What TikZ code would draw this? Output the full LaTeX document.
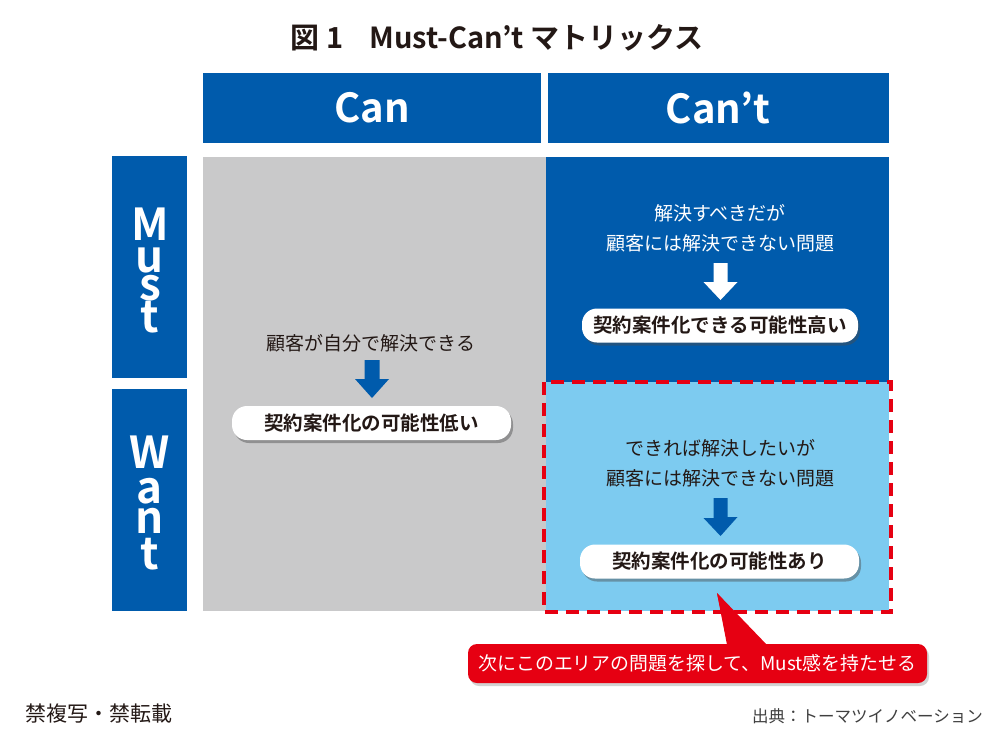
\documentclass[tikz,border=0pt]{standalone}
\usepackage{fontspec}
\setmainfont{Noto Sans CJK JP}[BoldFont={Noto Sans CJK JP Bold}]
\usetikzlibrary{shadows,calc}
\definecolor{dblue}{HTML}{005BAC}
\definecolor{lblue}{HTML}{7DCBF0}
\definecolor{lgrey}{HTML}{C9C9CA}
\definecolor{cred}{HTML}{E60012}
\definecolor{txt}{HTML}{231815}
\newcommand\myfixskip{\lineskiplimit=-100pt\relax}
\begin{document}
\begin{tikzpicture}[x=1pt,y=-1pt,
  rowletters/.style={text=white,align=center,anchor=north,inner sep=0pt},
  body/.style={font=\fontsize{19}{19}\selectfont,inner sep=0pt},
  pill/.style={fill=white,rounded corners=15pt,minimum height=34pt,inner sep=0pt,text=txt,
    font=\fontsize{19.5}{19.5}\selectfont\bfseries,
    drop shadow={shadow xshift=2pt,shadow yshift=-3pt,opacity=0.45,fill=black!70}},
]
\useasboundingbox (0,0) rectangle (1000,750);
\fill[white] (0,0) rectangle (1000,750);

% title
\node[font=\fontsize{29}{29}\selectfont\bfseries,text=txt] (title) at (497,38) {図 1\hspace{0.9em}Must-Can’t マトリックス};

% headers
\fill[dblue] (203,73) rectangle (541,143);
\node[text=white,font=\fontsize{40}{40}\selectfont\bfseries] (can) at (372,108) {Can};
\fill[dblue] (548,73) rectangle (889,143);
\node[text=white,font=\fontsize{40}{40}\selectfont\bfseries] (cant) at (718,108) {Can’t};

% row labels
\fill[dblue] (112,156) rectangle (187,378);
\fill[dblue] (112,389) rectangle (187,611);
\node[rowletters,font=\fontsize{44}{28}\selectfont\bfseries\myfixskip] (must) at (150,208) {M\\[4pt]u\\s\\[4pt]t};
\node[rowletters,font=\fontsize{44}{30}\selectfont\bfseries\myfixskip] (want) at (150,436) {W\\[5pt]a\\n\\[6pt]t};

% cells
\fill[lgrey] (203,157) rectangle (546,611);
\fill[dblue] (546,157) rectangle (889,382);
\fill[lblue] (546,382) rectangle (889,611);
\draw[cred,line width=4pt,dash pattern=on 13pt off 8pt] (544,382) rectangle (891,612);

% Can cell
\node[body,text=txt] (c1) at (371,343) {顧客が自分で解決できる};
\fill[dblue] (364.5,360) -- ++(15,0) -- ++(0,19) -- ++(9.5,0) -- (372,398) -- ++(-17,-19) -- ++(9.5,0) -- cycle;
\node[pill,minimum width=279pt] (p1) at (371.5,423) {契約案件化の可能性低い};

% Must / Can't
\node[body,text=white,align=center] (c2) at (720,228) {解決すべきだが\\[11pt]顧客には解決できない問題};
\fill[white] (713.5,263) -- ++(14,0) -- ++(0,19) -- ++(10,0) -- (720.5,300) -- ++(-17,-18) -- ++(10,0) -- cycle;
\node[pill,minimum width=276pt] (p2) at (720,325.5) {契約案件化できる可能性高い};

% Want / Can't
\node[body,text=txt,align=center] (c3) at (720,463) {できれば解決したいが\\[11pt]顧客には解決できない問題};
\fill[dblue] (713.5,498) -- ++(14,0) -- ++(0,19) -- ++(10,0) -- (720.5,536) -- ++(-17,-18) -- ++(10,0) -- cycle;
\node[pill,minimum width=279pt] (p3) at (719.5,561.5) {契約案件化の可能性あり};

% callout
\coordinate (tip) at (717,593);
\fill[cred,drop shadow={shadow xshift=2pt,shadow yshift=-3pt,opacity=0.35}] (tip) -- (768,650) -- (728,650) -- cycle;
\node[fill=cred,rounded corners=9pt,minimum width=459pt,minimum height=39pt,inner sep=0pt,
  text=white,font=\fontsize{18.9}{18.9}\selectfont,
  drop shadow={shadow xshift=2pt,shadow yshift=-3pt,opacity=0.35}] (call) at (697.5,663.5) {次にこのエリアの問題を探して、Must感を持たせる};
\fill[cred] (tip) -- (768,646) -- (728,646) -- cycle;

% footer
\node[anchor=west,font=\fontsize{21}{21}\selectfont,text=txt,inner sep=0pt] (f1) at (25,714) {禁複写・禁転載};
\node[anchor=east,font=\fontsize{16.5}{16.5}\selectfont,text=black!75,inner sep=0pt] (f2) at (983,716) {出典：トーマツイノベーション};
\end{tikzpicture}
\end{document}
